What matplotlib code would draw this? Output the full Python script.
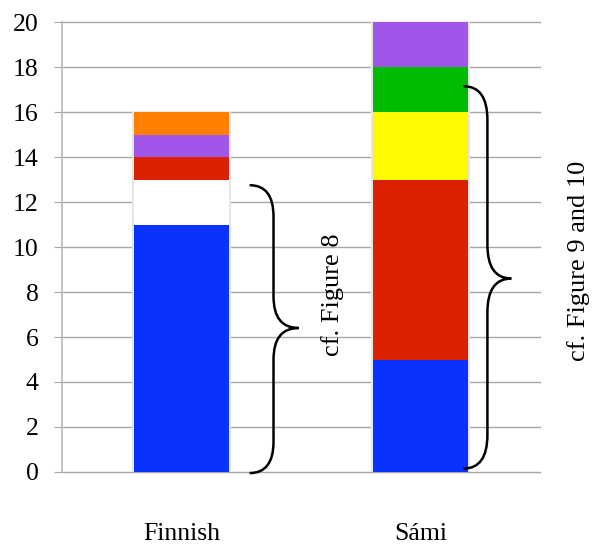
import matplotlib.pyplot as plt
from matplotlib.path import Path
from matplotlib.patches import PathPatch

plt.rcParams['font.family'] = ['Liberation Serif', 'DejaVu Serif']

languages = ["Finnish", "Sámi"]
blue = [11, 5]
white = [2, 0]
red = [1, 8]
yellow = [0, 3]
green = [0, 2]
purple = [1, 2]
orange = [1, 0]

series = [
    (blue, "#0A32FF"),
    (white, "#FFFFFF"),
    (red, "#DB2200"),
    (yellow, "#FFFA00"),
    (green, "#00BB00"),
    (purple, "#A056E8"),
    (orange, "#FF7F00"),
]

fig = plt.figure(figsize=(5.93, 5.44), dpi=100)
ax = fig.add_axes([0.1046, 0.1324, 0.806, 0.827])

xpos = [0, 1]
totals = [sum(v) for v in zip(*[s[0] for s in series])]
# faint shadow around the bars
ax.bar(xpos, totals, width=0.415, color="#E6E6E6", zorder=2.8, linewidth=0)

bottom = [0, 0]
for values, color in series:
    ax.bar(xpos, values, width=0.40, bottom=bottom, color=color, zorder=3,
           linewidth=0)
    bottom = [b + v for b, v in zip(bottom, values)]

ax.set_xlim(-0.5, 1.5)
ax.set_ylim(0, 20)
ax.set_yticks(range(0, 21, 2))
ax.set_xticks(xpos)
ax.set_xticklabels(languages)
ax.tick_params(axis='x', length=0, pad=37, labelsize=18.5)
ax.tick_params(axis='y', length=6, color="#A8A8A8", pad=11, labelsize=18.5)
ax.yaxis.grid(True, color="#A8A8A8", linewidth=1, zorder=0)
for line in ax.get_ygridlines():
    line.set_clip_on(False)
for side in ["top", "right", "bottom"]:
    ax.spines[side].set_visible(False)
ax.spines["left"].set_color("#B8B8B8")
ax.spines["left"].set_linewidth(1.2)


def brace(x0, x1, x2, ytop, ybot, ymid, r):
    verts = [
        (x0, ytop), (x1, ytop), (x1, ytop - r),
        (x1, ymid + r),
        (x1, ymid), (x2, ymid),
        (x1, ymid), (x1, ymid - r),
        (x1, ybot + r),
        (x1, ybot), (x0, ybot),
    ]
    codes = [Path.MOVETO, Path.CURVE3, Path.CURVE3, Path.LINETO,
             Path.CURVE3, Path.CURVE3, Path.CURVE3, Path.CURVE3,
             Path.LINETO, Path.CURVE3, Path.CURVE3]
    ax.add_patch(PathPatch(Path(verts, codes), fill=False, lw=1.8,
                           edgecolor="black", zorder=4, clip_on=False))


brace(0.285, 0.385, 0.49, 12.75, -0.05, 6.4, 1.4)
brace(1.18, 1.28, 1.38, 17.15, 0.15, 8.6, 1.5)

ax.text(0.632, 7.9, "cf. Figure 8", rotation=90, ha="center", va="center",
        fontsize=19)
ax.text(1.661, 9.4, "cf. Figure 9 and 10", rotation=90, ha="center",
        va="center", fontsize=19, clip_on=False)

fig.savefig("out.png", dpi=100)
